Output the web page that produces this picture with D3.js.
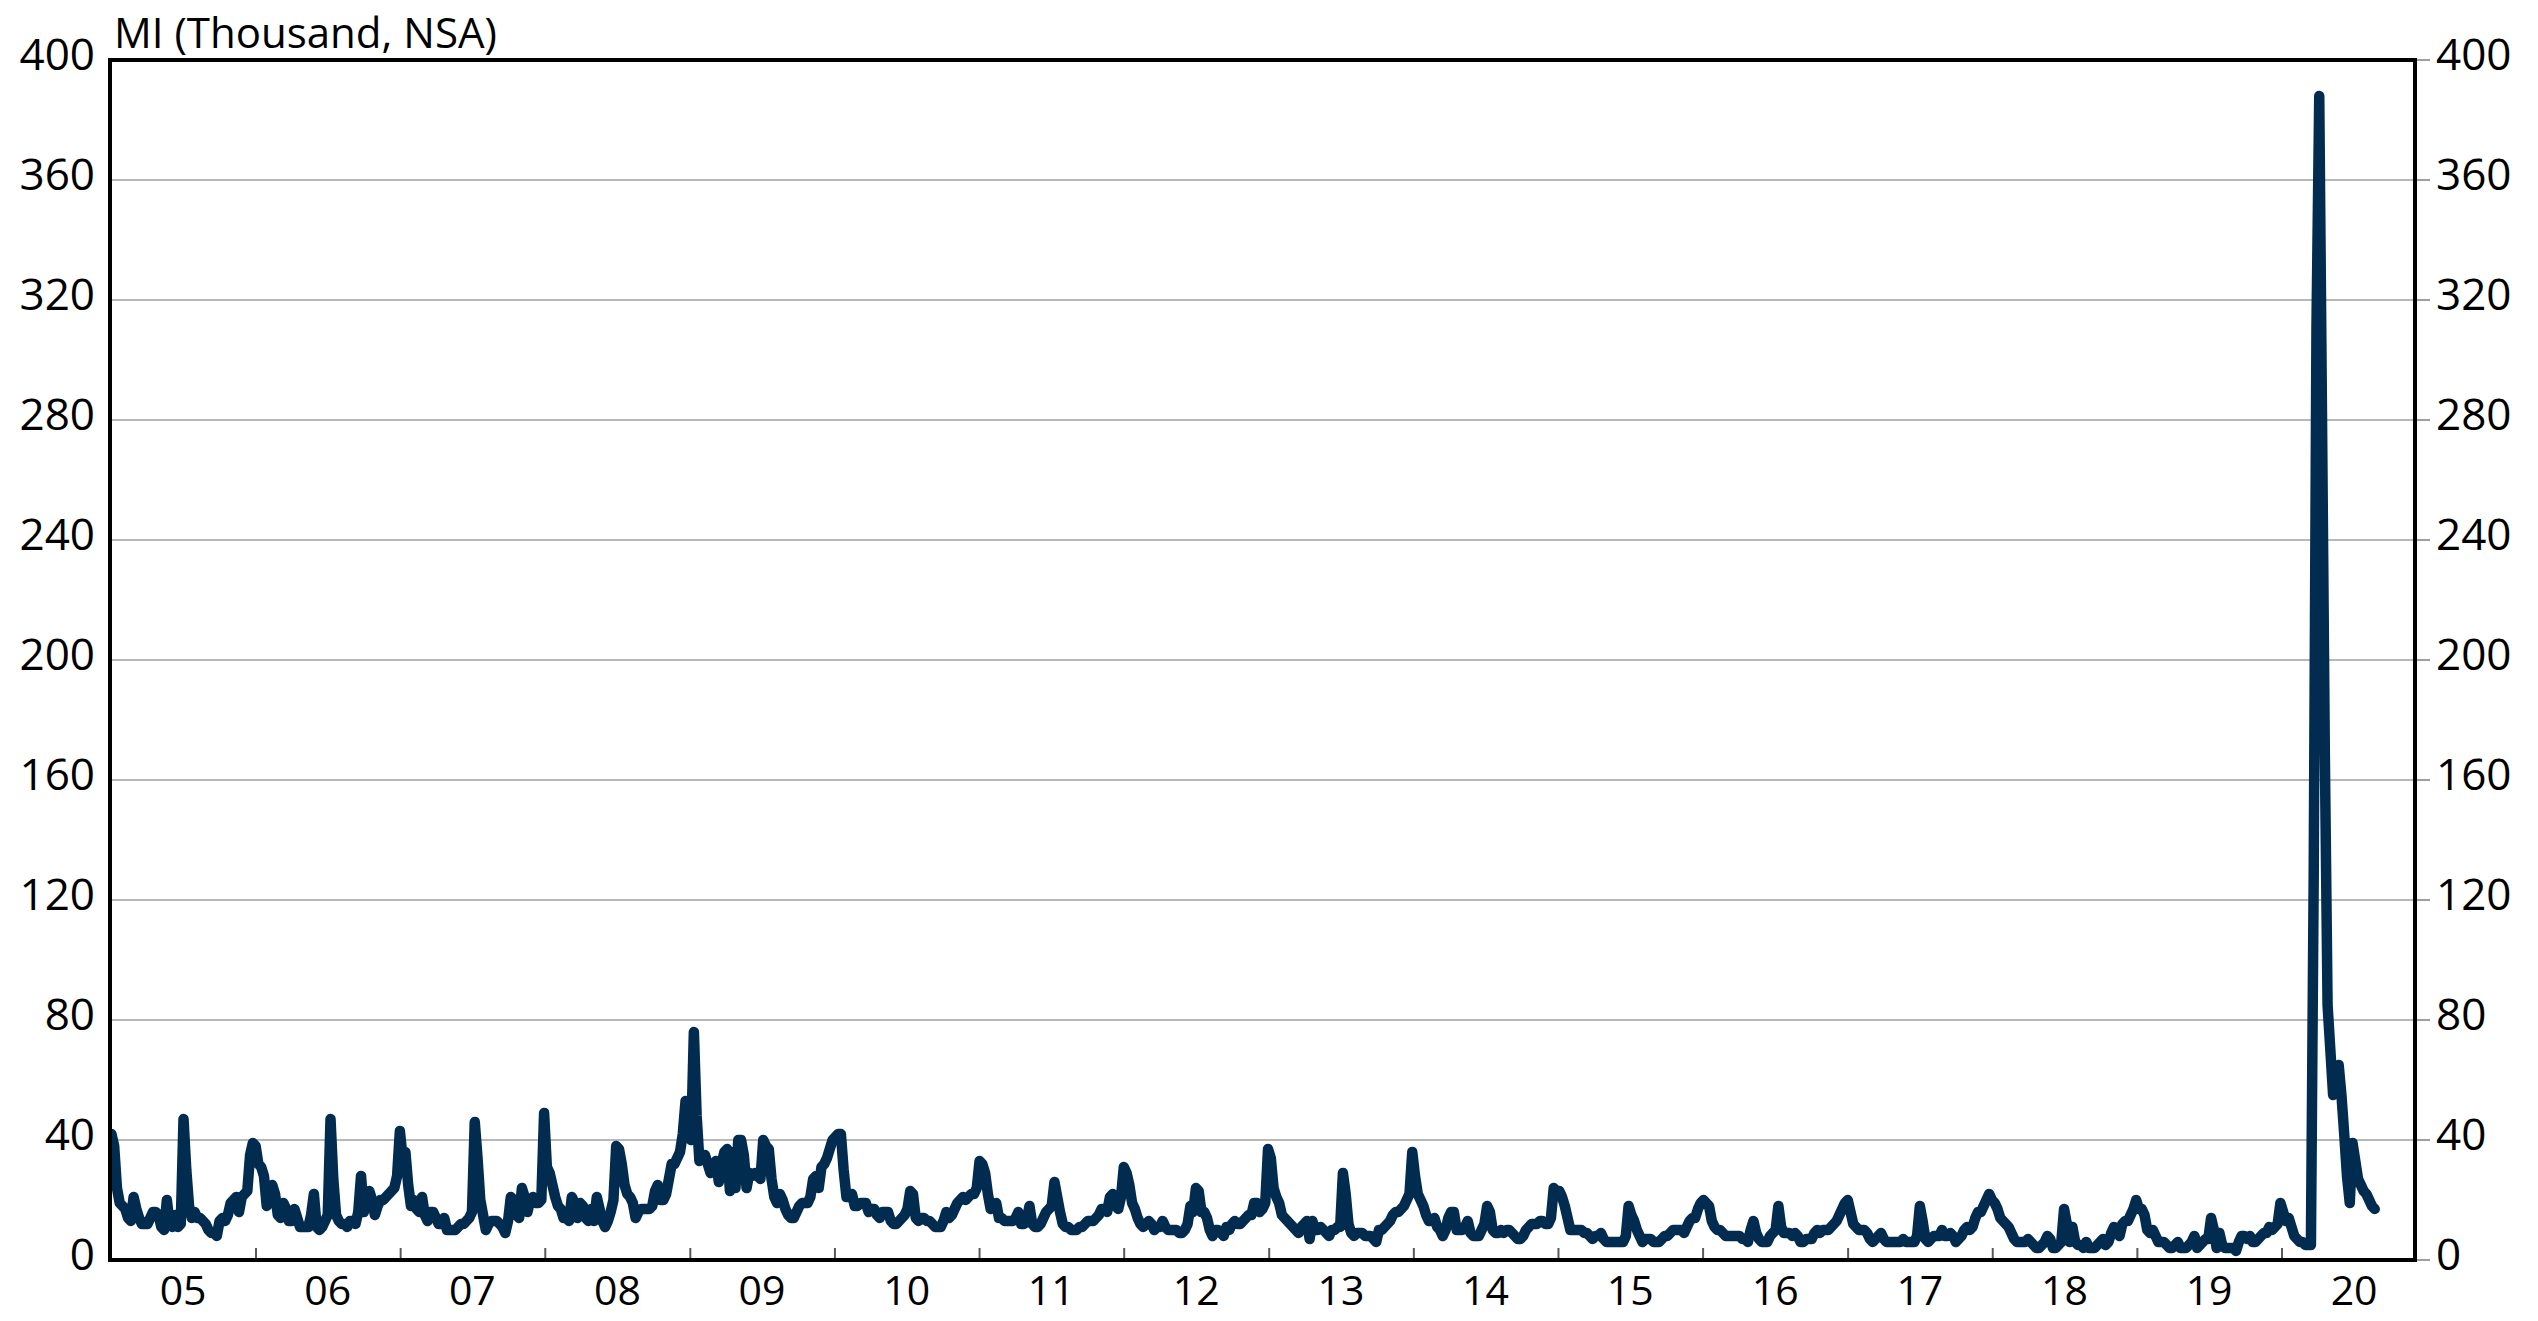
<!DOCTYPE html>
<html>
<head>
<meta charset="utf-8">
<script src="https://cdn.jsdelivr.net/npm/d3@7"></script>
<style>
  html, body { margin: 0; padding: 0; background: #ffffff; }
  svg { display: block; }
  text { font-family: "Open Sans", "Liberation Sans", sans-serif; fill: #000; }
</style>
</head>
<body>
<script>
// ---- Data: weekly (Saturday week-ending) values, thousands, NSA ----
const seriesStart = "2005-01-01";
const y2005 = [42,38,24,19,18,17,14,13,21,17,14,12,12,12,14,16,16,15,11,10,20,12,11,15,11,12,47,30,18,14,16,14,14,13,12,10,9,9,8,13,14,13,15,19,20,21,16,21,22,23,35,39,38];
const y2006 = [32,31,28,18,20,25,22,15,14,19,17,13,13,17,14,11,11,11,11,15,22,11,10,11,13,15,47,27,15,13,12,12,11,13,13,12,16,28,16,20,23,20,15,18,20,20,21,22,23,24,28,43];
const y2007 = [34,36,25,18,20,17,16,21,15,13,16,16,14,12,12,14,10,10,10,10,11,12,12,13,14,16,46,34,20,15,10,12,13,13,13,12,11,9,13,21,20,15,14,24,21,16,20,21,19,19,20,49];
const y2008 = [31,29,25,21,18,17,14,14,13,21,19,14,19,18,14,13,17,13,21,17,13,11,13,16,20,38,37,32,25,22,21,19,14,16,17,17,17,17,18,23,25,20,20,22,27,32,32,34,36,42,53,42];
const y2009 = [40,76,48,33,34,35,32,29,31,33,26,32,36,37,23,36,24,40,40,35,24,29,28,29,28,27,40,38,37,27,21,19,22,20,17,15,14,14,16,18,19,19,19,21,27,28,24,31,32,34,37,40];
const y2010 = [41,42,42,30,21,21,22,18,18,19,19,19,16,17,17,15,14,16,16,16,13,12,12,13,14,15,17,23,22,14,13,14,14,13,13,12,11,11,11,13,16,14,15,17,19,20,21,20,21,22,22,24];
const y2011 = [33,32,29,22,17,18,19,14,14,13,13,13,13,14,16,12,12,13,18,12,11,11,12,14,16,17,18,26,21,16,12,11,11,10,10,10,11,11,12,13,13,13,14,15,17,17,16,21,22,18,17,21,31];
const y2012 = [29,25,19,17,14,12,11,12,13,12,10,11,11,13,11,10,10,10,10,9,9,10,12,18,16,24,23,16,16,14,10,8,10,10,9,8,11,10,12,13,12,12,13,14,15,15,19,19,16,17,19,37];
const y2013 = [34,24,21,19,15,14,13,12,11,10,9,11,12,13,7,13,10,10,11,10,9,8,10,10,11,11,29,22,12,9,8,9,9,9,8,8,8,7,6,10,10,11,12,13,15,16,16,17,18,20,22,36];
const y2014 = [28,22,20,18,15,13,13,14,11,10,8,10,14,16,16,10,10,10,11,13,9,8,8,8,10,12,18,16,10,9,9,10,9,10,10,9,8,7,7,8,10,11,12,12,12,13,13,12,12,14,24,23];
const y2015 = [23,21,18,14,10,10,10,10,10,9,9,8,7,8,8,9,7,6,6,6,6,6,6,6,8,18,15,13,10,8,6,7,7,7,6,6,6,7,8,8,9,10,10,10,10,9,11,13,14,14,17,19];
const y2016 = [20,19,18,13,11,10,10,9,8,8,8,8,8,8,7,7,6,10,13,9,7,6,6,6,8,9,10,18,11,9,9,9,8,9,8,6,6,7,7,7,9,10,9,10,10,10,11,12,13,15,17,19,20];
const y2017 = [16,12,11,10,10,10,9,7,6,7,8,9,7,6,6,6,6,6,6,7,6,6,6,6,8,18,13,7,6,7,8,8,8,10,8,8,9,8,6,7,8,10,11,10,11,14,16,16,18,20,22,20];
const y2018 = [19,17,14,13,12,11,9,7,6,6,6,6,7,6,5,4,4,5,6,8,7,4,4,5,6,17,12,6,11,6,5,5,4,6,4,4,4,5,6,7,5,6,9,11,10,8,12,13,13,15,17,20];
const y2019 = [17,17,15,10,9,10,8,6,6,6,5,4,4,5,6,4,4,4,5,6,8,4,5,6,7,7,14,10,4,9,5,4,4,4,4,3,6,8,8,7,8,6,6,7,8,9,9,11,10,11,12,19];
const y2020 = [16,13,14,11,8,7,6,6,5,5,5,128,311,388,280,170,85,70,55,56,65,55,42,28,19,39,33,27,25,23,22,20,18,17];

const years = [2005,2006,2007,2008,2009,2010,2011,2012,2013,2014,2015,2016,2017,2018,2019,2020];
const yearLabels = ["05","06","07","08","09","10","11","12","13","14","15","16","17","18","19","20"];
const yTickValues = [0,40,80,120,160,200,240,280,320,360,400];
const gridValues = [40,80,120,160,200,240,280,320,360];
const titleText = "MI (Thousand, NSA)";

// ---- Build series ----
const allWeeks = [].concat(y2005,y2006,y2007,y2008,y2009,y2010,y2011,y2012,y2013,y2014,y2015,y2016,y2017,y2018,y2019,y2020);
const t0 = Date.parse(seriesStart + "T00:00:00Z");
const DAY = 864e5;
const data = allWeeks.map((v, i) => ({ date: new Date(t0 + i * 7 * DAY), v }));

// ---- Layout ----
const W = 2538, H = 1321;
const L = 110, R = 2415, T = 60, B = 1260;

const svg = d3.select("body").append("svg").attr("width", W).attr("height", H);
svg.append("rect").attr("width", W).attr("height", H).attr("fill", "#fff");

const x = d3.scaleUtc()
  .domain([new Date(Date.UTC(2005,0,1)), new Date(Date.UTC(2020,0,1))])
  .range([111.4, 2282]);
const y = d3.scaleLinear().domain([0, 400]).range([B, T]);

// gridlines
svg.append("g").selectAll("line").data(gridValues).join("line")
  .attr("x1", L).attr("x2", R)
  .attr("y1", d => y(d)).attr("y2", d => y(d))
  .attr("stroke", "#a0a0a0").attr("stroke-width", 1.5);

// x ticks (inside, at year boundaries)
svg.append("g").selectAll("line").data(years.slice(1)).join("line")
  .attr("x1", d => x(new Date(Date.UTC(d,0,1))))
  .attr("x2", d => x(new Date(Date.UTC(d,0,1))))
  .attr("y1", B).attr("y2", B - 12)
  .attr("stroke", "#595959").attr("stroke-width", 2);

// line
const clipId = "plotclip";
svg.append("clipPath").attr("id", clipId).append("rect")
  .attr("x", L).attr("y", T - 20).attr("width", R - L).attr("height", B - T + 20);

svg.append("path")
  .datum(data)
  .attr("clip-path", `url(#${clipId})`)
  .attr("fill", "none")
  .attr("stroke", "#022b50")
  .attr("stroke-width", 10.5)
  .attr("stroke-linejoin", "round")
  .attr("stroke-linecap", "round")
  .attr("d", d3.line().x(d => x(d.date)).y(d => y(d.v)));

// frame
svg.append("rect")
  .attr("x", L).attr("y", T).attr("width", R - L).attr("height", B - T)
  .attr("fill", "none").attr("stroke", "#000").attr("stroke-width", 4);

// right ticks
svg.append("g").selectAll("line").data(yTickValues).join("line")
  .attr("x1", R + 2).attr("x2", R + 15)
  .attr("y1", d => y(d)).attr("y2", d => y(d))
  .attr("stroke", "#7f7f7f").attr("stroke-width", 1.5);

// left labels
svg.append("g").selectAll("text").data(yTickValues).join("text")
  .attr("x", 95).attr("y", d => y(d) + 10)
  .attr("text-anchor", "end")
  .attr("font-size", 44)
  .text(d => d);

// right labels
svg.append("g").selectAll("text").data(yTickValues).join("text")
  .attr("x", 2436).attr("y", d => y(d) + 10)
  .attr("text-anchor", "start")
  .attr("font-size", 44)
  .text(d => d);

// x labels at mid-year
svg.append("g").selectAll("text").data(years).join("text")
  .attr("x", d => x(new Date(Date.UTC(d,6,1))))
  .attr("y", 1305)
  .attr("text-anchor", "middle")
  .attr("font-size", 41)
  .text((d, i) => yearLabels[i]);

// title
svg.append("text")
  .attr("x", 114).attr("y", 48)
  .attr("font-size", 42)
  .text(titleText);
</script>
</body>
</html>
